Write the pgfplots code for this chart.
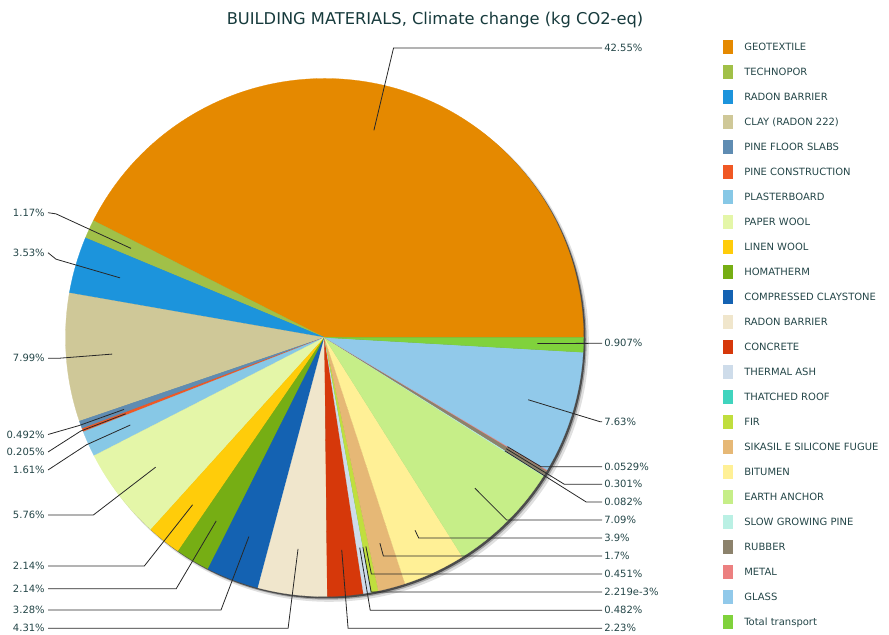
\documentclass[border=0pt]{standalone}
\usepackage{pgfplots}
\pgfplotsset{compat=1.18}
\usepackage{pgfplotstable}
\usepackage{fontspec}
\setmainfont{DejaVu Sans}

\definecolor{txt}{RGB}{36,70,72}
\definecolor{ttl}{RGB}{22,58,60}
\definecolor{lead}{RGB}{40,40,40}
\definecolor{c0}{RGB}{229,137,0}
\definecolor{c1}{RGB}{161,192,72}
\definecolor{c2}{RGB}{28,148,220}
\definecolor{c3}{RGB}{207,200,152}
\definecolor{c4}{RGB}{95,140,178}
\definecolor{c5}{RGB}{240,88,36}
\definecolor{c6}{RGB}{135,200,230}
\definecolor{c7}{RGB}{228,246,168}
\definecolor{c8}{RGB}{255,204,10}
\definecolor{c9}{RGB}{118,174,20}
\definecolor{c10}{RGB}{20,98,178}
\definecolor{c11}{RGB}{240,230,204}
\definecolor{c12}{RGB}{214,56,10}
\definecolor{c13}{RGB}{206,220,234}
\definecolor{c14}{RGB}{64,212,190}
\definecolor{c15}{RGB}{192,222,62}
\definecolor{c16}{RGB}{230,184,118}
\definecolor{c17}{RGB}{255,240,150}
\definecolor{c18}{RGB}{198,238,136}
\definecolor{c19}{RGB}{186,240,228}
\definecolor{c20}{RGB}{140,130,108}
\definecolor{c21}{RGB}{236,128,128}
\definecolor{c22}{RGB}{145,201,234}
\definecolor{c23}{RGB}{128,210,60}

% share in %, label text, label y (px from top), side (0 left / 1 right), mode (1 = bend at rim)
\pgfplotstableread[col sep=comma]{
name,value,label,ly,side,mode
GEOTEXTILE,42.55,42.55,48,1,0
TECHNOPOR,1.17,1.17,212.7,0,0
RADON BARRIER,3.53,3.53,252.7,0,0
CLAY (RADON 222),7.99,7.99,358.3,0,0
PINE FLOOR SLABS,0.492,0.492,434.5,0,1
PINE CONSTRUCTION,0.205,0.205,452,0,1
PLASTERBOARD,1.61,1.61,470,0,1
PAPER WOOL,5.76,5.76,515,0,0
LINEN WOOL,2.14,2.14,566,0,0
HOMATHERM,2.14,2.14,588.7,0,0
COMPRESSED CLAYSTONE,3.28,3.28,610,0,0
RADON BARRIER,4.31,4.31,628.3,0,0
CONCRETE,2.23,2.23,628.3,1,0
THERMAL ASH,0.482,0.482,610.3,1,0
THATCHED ROOF,0.002219,2.219e-3,592,1,0
FIR,0.451,0.451,574,1,0
SIKASIL E SILICONE FUGUE,1.7,1.7,556,1,0
BITUMEN,3.9,3.9,538,1,0
EARTH ANCHOR,7.09,7.09,520,1,0
SLOW GROWING PINE,0.082,0.082,502,1,0
RUBBER,0.301,0.301,484.3,1,0
METAL,0.0529,0.0529,466.7,1,0
GLASS,7.63,7.63,421.7,1,0
Total transport,0.907,0.907,343.3,1,0
}\slices

\def\cx{324.5}
\def\cy{297.5}
\def\R{259}
\def\Rpt{194.25}
\def\Rin{213}

\pgfplotstablegetrowsof{\slices}
\pgfmathtruncatemacro\nlast{\pgfplotsretval-1}
\def\tot{0}
\pgfplotsforeachungrouped \k in {0,...,\nlast}{%
  \pgfplotstablegetelem{\k}{value}\of\slices
  \pgfmathsetmacro\tot{\tot+\pgfplotsretval}%
}

\begin{document}
\begin{tikzpicture}
\begin{axis}[
  name=ax,
  x=0.75pt, y=0.75pt,
  xmin=0, xmax=889, ymin=0, ymax=635,
  scale only axis,
  hide axis,
  clip=false,
]
% shadow
\fill[black, opacity=0.12] (axis cs:\cx+4.5,\cy-4.5) circle[radius=\Rpt pt+0.6pt];
\fill[black, opacity=0.25] (axis cs:\cx+3.2,\cy-3.2) circle[radius=\Rpt pt];
\fill[black, opacity=0.55] (axis cs:\cx+2,\cy-2) circle[radius=\Rpt pt];

% slices
\def\cum{0}
\pgfplotsforeachungrouped \k in {0,...,\nlast}{%
  \pgfplotstablegetelem{\k}{value}\of\slices \let\val\pgfplotsretval
  \pgfmathsetmacro\aS{\cum/\tot*360}%
  \pgfmathsetmacro\cum{\cum+\val}%
  \pgfmathsetmacro\aE{\cum/\tot*360}%
  \pgfmathsetmacro\xS{\cx+\R*cos(\aS)}%
  \pgfmathsetmacro\yS{\cy+\R*sin(\aS)}%
  \edef\cmd{\noexpand\fill[c\k, draw=c\k, line width=0.2pt, line join=round]
    (axis cs:\cx,\cy) -- (axis cs:\xS,\yS)
    arc[start angle=\aS, end angle=\aE, radius=\Rpt pt] -- cycle;}%
  \cmd
}

% leader lines, labels, legend
\def\cum{0}
\pgfplotsforeachungrouped \k in {0,...,\nlast}{%
  \pgfplotstablegetelem{\k}{value}\of\slices \let\val\pgfplotsretval
  \pgfplotstablegetelem{\k}{label}\of\slices \let\lab\pgfplotsretval
  \pgfplotstablegetelem{\k}{ly}\of\slices \let\lyp\pgfplotsretval
  \pgfplotstablegetelem{\k}{side}\of\slices \let\sd\pgfplotsretval
  \pgfplotstablegetelem{\k}{mode}\of\slices \let\md\pgfplotsretval
  \pgfplotstablegetelem{\k}{name}\of\slices \let\nm\pgfplotsretval
  \pgfmathsetmacro\mA{(\cum+\val/2)/\tot*360}%
  \pgfmathsetmacro\cum{\cum+\val}%
  \pgfmathsetmacro\lyA{635-\lyp}%
  \pgfmathsetmacro\xI{\cx+\Rin*cos(\mA)}%
  \pgfmathsetmacro\yI{\cy+\Rin*sin(\mA)}%
  \pgfmathsetmacro\tA{max(\Rin,(\lyA-\cy)/sin(\mA))}%
  \ifnum\md=1
    \pgfmathsetmacro\tA{\R+2}%
  \fi
  \pgfmathsetmacro\xE{\cx+\tA*cos(\mA)}%
  \ifnum\sd=0
    \ifnum\md=0
      \pgfmathsetmacro\xE{max(\xE,56)}%
      \pgfmathsetmacro\tA{(\xE-\cx)/cos(\mA)}%
    \fi
  \fi
  \pgfmathsetmacro\xE{\cx+\tA*cos(\mA)}%
  \pgfmathsetmacro\yE{\cy+\tA*sin(\mA)}%
  \pgfmathsetmacro\yB{\lyA-3.6}%
  \ifnum\sd=1
    \edef\cmd{\noexpand\draw[lead, line width=0.6pt]
      (axis cs:\xI,\yI) -- (axis cs:\xE,\yE) -- (axis cs:602,\lyA);
      \noexpand\node[anchor=base west, inner sep=0pt, text=txt,
        font=\noexpand\fontsize{7.5pt}{9pt}\noexpand\selectfont]
        at (axis cs:604,\yB) {\lab\noexpand\%};}%
  \else
    \edef\cmd{\noexpand\draw[lead, line width=0.6pt]
      (axis cs:\xI,\yI) -- (axis cs:\xE,\yE) -- (axis cs:48,\lyA);
      \noexpand\node[anchor=base east, inner sep=0pt, text=txt,
        font=\noexpand\fontsize{7.5pt}{9pt}\noexpand\selectfont]
        at (axis cs:45,\yB) {\lab\noexpand\%};}%
  \fi
  \cmd
  % legend entry
  \pgfmathsetmacro\gy{635-(46.9+25*\k)}%
  \pgfmathsetmacro\gyT{\gy+7.3}%
  \pgfmathsetmacro\gyB{\gy-7.3}%
  \pgfmathsetmacro\gyL{\gy-3.6}%
  \edef\cmd{\noexpand\fill[c\k] (axis cs:723,\gyB) rectangle (axis cs:733,\gyT);
    \noexpand\node[anchor=base west, inner sep=0pt, text=txt,
      font=\noexpand\fontsize{7.5pt}{9pt}\noexpand\selectfont]
      at (axis cs:744,\gyL) {\nm};}%
  \cmd
}

% title
\node[anchor=base, inner sep=0pt, text=ttl, font=\fontsize{12.2pt}{14pt}\selectfont]
  at (axis cs:435,610.5) {BUILDING MATERIALS, Climate change (kg CO2-eq)};
\end{axis}
\pgfresetboundingbox
\path[use as bounding box] (ax.south west) rectangle (ax.north east);
\end{tikzpicture}%
\end{document}
